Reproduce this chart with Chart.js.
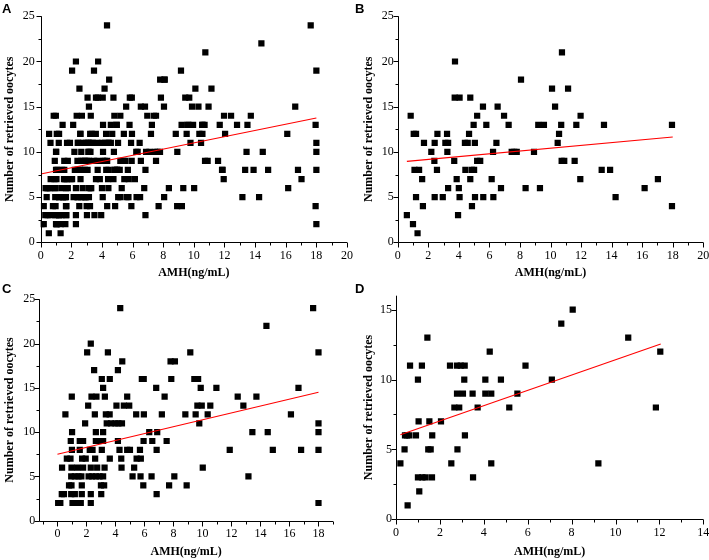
<!DOCTYPE html>
<html>
<head>
<meta charset="utf-8">
<script src="https://cdn.jsdelivr.net/npm/chart.js@4.4.0/dist/chart.umd.min.js"></script>
<style>
body{margin:0;background:#fff;}
#wrap{position:relative;width:709px;height:560px;overflow:hidden;}
canvas{position:absolute;}
.lab{position:absolute;font:bold 13px "Liberation Sans",Arial,sans-serif;color:#000;line-height:13px;}
</style>
</head>
<body>
<div id="wrap">
  <canvas id="chA"></canvas>
  <canvas id="chB"></canvas>
  <canvas id="chC"></canvas>
  <canvas id="chD"></canvas>
  <div class="lab" style="left:2px;top:2px">A</div>
  <div class="lab" style="left:355px;top:2px">B</div>
  <div class="lab" style="left:2px;top:282px">C</div>
  <div class="lab" style="left:355px;top:282px">D</div>
</div>
<script>
// values (AMH, number of retrieved oocytes)
var bX=[0.6,0.85,1.0,1.05,1.2,1.1,1.4,1.2,1.3,1.6,1.65,1.72,2.2,2.4,2.42,2.42,2.6,2.57,2.95,3.12,3.3,3.23,3.25,3.3,3.73,3.75,3.7,3.86,3.95,4.0,4.05,4.05,4.43,4.4,4.58,4.67,4.75,4.75,4.85,5.0,4.86,4.97,5.05,5.06,5.2,5.4,5.2,5.6,5.58,5.8,6.15,6.24,6.26,6.46,6.54,6.76,6.96,7.26,7.46,7.63,7.79,8.07,8.37,8.92,9.2,9.31,9.57,10.1,10.3,10.47,10.56,10.7,10.75,10.73,10.9,11.15,11.58,11.69,11.95,11.97,13.35,13.5,13.9,14.26,16.16,17.03,17.95,17.95];
var bY=[3,14,2,12,12,8,8,5,1,7,4,11,10,9,11,5,12,8,5,11,11,12,10,6,16,20,9,7,3,6,16,5,8,11,11,12,16,7,8,8,4,13,11,5,9,9,14,5,15,13,7,10,5,11,15,6,14,13,10,10,10,18,6,10,13,6,13,17,15,11,12,13,21,9,9,17,9,13,7,14,8,13,8,5,6,7,13,4];

var cX=[4.33,17.63, 14.41, 2.3, 2.05,3.48,9.16,18.0, 4.47,7.8,8.1, 2.53,4.17,
  3.06,3.61,5.82,5.95,7.85,9.44,9.7, 3.15,6.81,9.88,10.96,16.62,
  0.99,2.35,2.69,3.27,4.81,7.39,12.43,13.72, 2.12,4.07,4.58,4.95,9.65,9.95,10.54,12.82,
  0.55,2.58,3.34,3.6,5.43,5.96,7.2,8.82,9.53,10.36,16.1, 1.91,3.4,3.7,4.0,4.2,4.45,9.78,18.0,
  1.01,2.65,3.15,6.33,6.88,13.44,14.5,18.0, 0.92,1.54,1.77,2.65,2.9,3.15,4.17,5.94,6.54,7.53,
  1.0,1.54,2.23,2.42,3.06,4.28,4.81,5.0,5.69,6.84,11.88,14.85,16.8,18.0,
  0.65,0.9,1.7,1.95,2.6,3.61,4.4,5.46,5.75, 0.32,0.97,1.36,1.77,2.3,2.74,3.25,4.42,5.29,10.02,
  0.95,1.2,1.45,1.65,2.15,2.4,2.65,2.9,3.15,5.18,5.73,6.49,8.06,13.17,
  0.8,0.97,1.68,3.0,3.22,5.92,7.7,8.91, 0.3,0.45,0.95,1.2,1.68,2.3,3.02,6.84,
  0.05,0.2,1.04,1.31,1.61,2.3,18.0];
var cY=[24,24, 22, 20, 19,19,19,19, 18,18,18, 17,17,
  16,16,16,16,16,16,16, 15,15,15,15,15,
  14,14,14,14,14,14,14,14, 13,13,13,13,13,13,13,13,
  12,12,12,12,12,12,12,12,12,12,12, 11,11,11,11,11,11,11,11,
  10,10,10,10,10,10,10,10, 9,9,9,9,9,9,9,9,9,9,
  8,8,8,8,8,8,8,8,8,8,8,8,8,8,
  7,7,7,7,7,7,7,7,7, 6,6,6,6,6,6,6,6,6,6,
  5,5,5,5,5,5,5,5,5,5,5,5,5,5,
  4,4,4,4,4,4,4,4, 3,3,3,3,3,3,3,3,
  2,2,2,2,2,2,2];

var dX=[0.2,0.39,0.41,0.5,0.61,0.53,0.64,0.91,1.0,1.03,1.0,1.2,1.35,1.06,1.18,1.43,1.47,1.58,1.52,1.64,1.65,2.05,2.46,2.52,2.66,2.88,2.78,3.05,2.8,2.78,2.95,3.13,3.11,3.14,3.49,3.51,3.72,4.07,4.07,4.34,4.27,4.34,4.78,5.16,5.53,5.9,7.1,7.53,8.05,9.22,10.58,11.84,12.04];
var dY=[4,5,6,6,6,1,11,6,10,7,3,3,3,2,11,13,5,5,7,3,6,7,11,4,8,8,9,9,5,11,11,11,10,6,9,3,8,10,9,9,12,4,10,8,9,11,10,14,15,4,13,8,12];

// panel A holds every patient (B, C and D together)
var aX=bX.concat(cX,dX);
var aY=bY.concat(cY,dY);

// red fitted lines: start and end
var aFitX=[0,18], aFitY=[7.55,13.75];
var bFitX=[0.6,18], bFitY=[8.95,11.65];
var cFitX=[0,18], cFitY=[7.5,14.5];
var dFitX=[0.2,12.06], dFitY=[6.05,12.55];

var xTicks20=[0,2,4,6,8,10,12,14,16,18,20];
var xTicks18=[0,2,4,6,8,10,12,14,16,18];
var xTicks14=[0,2,4,6,8,10,12,14];
var yTicks25=[0,5,10,15,20,25];
var yTicks15=[0,5,10,15];

var serif='"Liberation Serif","Times New Roman",serif';

// axis lines + major/minor ticks pointing outward
var axisTicks={
  id:'axisTicks',
  afterDraw:function(chart){
    var ctx=chart.ctx, a=chart.chartArea, sx=chart.scales.x, sy=chart.scales.y;
    var L=Math.round(a.left)+0.5, B=Math.round(a.bottom)+0.5;
    ctx.save();
    ctx.strokeStyle='#000';
    ctx.lineWidth=1;
    ctx.beginPath();
    ctx.moveTo(L,a.top); ctx.lineTo(L,B);
    ctx.moveTo(L,B); ctx.lineTo(a.right,B);
    var v,p,len;
    for(v=Math.ceil(sx.min);v<=sx.max+0.001;v+=1){
      p=Math.round(sx.getPixelForValue(v))+0.5;
      len=(v%2===0)?5:3;
      ctx.moveTo(p,B); ctx.lineTo(p,B+len);
    }
    for(v=0;v<=sy.max+0.001;v+=2.5){
      p=Math.round(sy.getPixelForValue(v))+0.5;
      len=(v%5===0)?5:3;
      ctx.moveTo(L,p); ctx.lineTo(L-len,p);
    }
    ctx.stroke();
    ctx.restore();
  }
};

function makePanel(c){
  var el=document.getElementById(c.id);
  el.width=c.w; el.height=c.h;
  el.style.width=c.w+'px'; el.style.height=c.h+'px';
  el.style.left=c.left+'px'; el.style.top=c.top+'px';
  var pts=[];
  for(var i=0;i<c.xs.length;i++){ pts.push({x:c.xs[i],y:c.ys[i]}); }
  var fit=[{x:c.fitX[0],y:c.fitY[0]},{x:c.fitX[1],y:c.fitY[1]}];
  new Chart(el,{
    type:'scatter',
    data:{datasets:[
      {type:'line',data:fit,borderColor:'#ff0000',borderWidth:1.1,pointRadius:0,fill:false,order:0},
      {data:pts,pointStyle:'rect',pointRadius:4.4,backgroundColor:'#000',borderWidth:0,order:1}
    ]},
    options:{
      responsive:false,
      animation:false,
      layout:{padding:c.pad},
      plugins:{legend:{display:false},tooltip:{enabled:false}},
      scales:{
        x:{
          type:'linear',position:'bottom',min:c.xMin,max:c.xMax,
          grid:{display:false,drawTicks:false},border:{display:false},
          ticks:{font:{family:serif,size:12},color:'#000',padding:6,maxRotation:0,autoSkip:false},
          afterBuildTicks:function(s){ s.ticks=c.xTicks.map(function(v){return {value:v};}); },
          afterFit:function(s){ s.height=c.xH; },
          title:{display:true,text:'AMH(ng/mL)',color:'#000',font:{family:serif,size:12,weight:'bold'},padding:{top:0,bottom:c.xTitlePad}}
        },
        y:{
          type:'linear',position:'left',min:0,max:c.yMax,
          grid:{display:false,drawTicks:false},border:{display:false},
          ticks:{font:{family:serif,size:12},color:'#000',padding:c.yTickPad,autoSkip:false},
          afterBuildTicks:function(s){ s.ticks=c.yTicks.map(function(v){return {value:v};}); },
          afterFit:function(s){ s.width=c.yW; },
          title:{display:true,text:'Number of retrieved oocytes',color:'#000',font:{family:serif,size:12,weight:'bold'},padding:{top:c.yTitlePad,bottom:0}}
        }
      }
    },
    plugins:[axisTicks]
  });
}

makePanel({id:'chA',left:0,top:0,w:360,h:282,xs:aX,ys:aY,fitX:aFitX,fitY:aFitY,
  xMin:0,xMax:20,yMax:25,xTicks:xTicks20,yTicks:yTicks25,
  pad:{left:0,top:16.3,right:13,bottom:0},yW:40.7,xH:39.7,yTickPad:6,yTitlePad:3,xTitlePad:2});
makePanel({id:'chB',left:354,top:0,w:365,h:282,xs:bX,ys:bY,fitX:bFitX,fitY:bFitY,
  xMin:0,xMax:20,yMax:25,xTicks:xTicks20,yTicks:yTicks25,
  pad:{left:0,top:16.3,right:15.7,bottom:0},yW:43.7,xH:39.7,yTickPad:4,yTitlePad:8,xTitlePad:2});
makePanel({id:'chC',left:0,top:280,w:360,h:280,xs:cX,ys:cY,fitX:cFitX,fitY:cFitY,
  xMin:-1.25,xMax:19,yMax:25,xTicks:xTicks18,yTicks:yTicks25,
  pad:{left:0,top:19.3,right:27,bottom:0},yW:39.3,xH:39.3,yTickPad:4,yTitlePad:3,xTitlePad:1});
makePanel({id:'chD',left:354,top:280,w:365,h:280,xs:dX,ys:dY,fitX:dFitX,fitY:dFitY,
  xMin:0,xMax:14,yMax:16,xTicks:xTicks14,yTicks:yTicks15,
  pad:{left:0,top:15.7,right:15.7,bottom:0},yW:42,xH:40.7,yTickPad:4,yTitlePad:8,xTitlePad:1});
</script>
</body>
</html>
